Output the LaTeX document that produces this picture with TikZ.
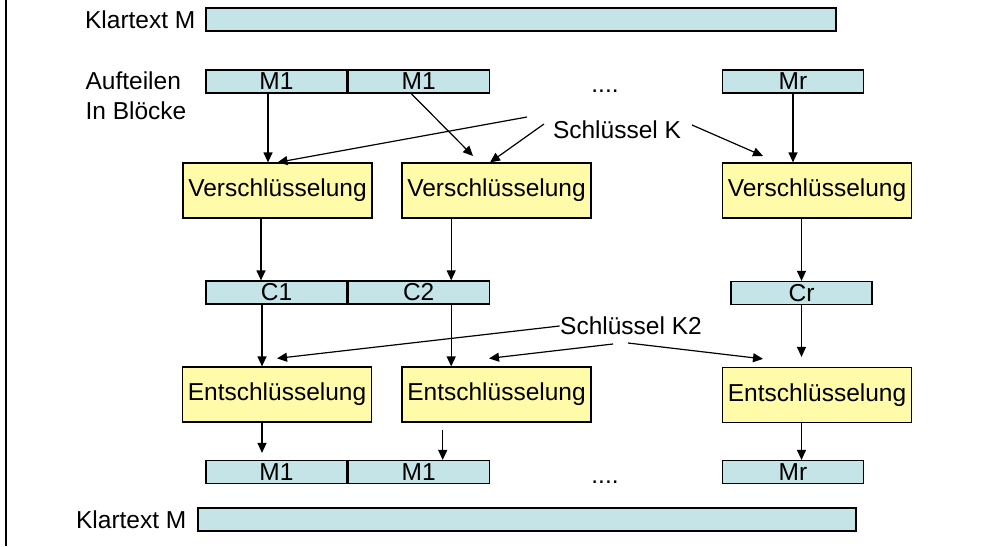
\documentclass[tikz,border=0pt]{standalone}
\usepackage{fontspec}
\setmainfont{Liberation Sans}
\usetikzlibrary{positioning,arrows.meta}
\definecolor{segblue}{RGB}{197,228,231}
\definecolor{cryptyellow}{RGB}{255,251,168}

\begin{document}
\begin{tikzpicture}[x=1pt, y=-1pt, line width=1.2pt,
    every node/.style={font=\fontsize{24.5}{30}\selectfont, inner sep=0pt},
    seg/.style={draw, fill=segblue, minimum width=141pt, minimum height=23pt},
    crypt/.style={draw, fill=cryptyellow, minimum width=189pt, minimum height=55pt},
    arr/.style={-{Triangle[length=10pt,width=9pt]}}]
        \useasboundingbox (0,0) rectangle (987,546);
        \draw[line width=1.6pt] (6,0) -- (6,546);
        % Plaintext and its blocks
        \node[draw, fill=segblue, minimum width=630pt, minimum height=23pt] (plain) at (521,19.5) {};
        \node[anchor=east] (plainlbl) at (196,19.5) {Klartext M};
        \node[anchor=west, align=left] (splitlbl) at (85,96) {Aufteilen\\In Blöcke};
        \node[seg] (m1) at (276.5,81.5) {M1};
        \node[seg, right=0pt of m1] (m2) {M1};
        \node[anchor=base] (mdots) at (605,92) {....};
        \node[seg] (mr) at (793,81.5) {Mr};
        % Encryption
        \node[crypt] (enc1) at (277.5,190.5) {Verschlüsselung};
        \node[crypt] (enc2) at (496.5,190.5) {Verschlüsselung};
        \node[crypt] (enc3) at (817,190.5) {Verschlüsselung};
        \node (keyK) at (617,130) {Schlüssel K};
        \coordinate (kA) at (527,117);
        \coordinate (kB) at (544,124);
        \coordinate (kC) at (692,125);
        \coordinate (kC2) at (763,156);
        \coordinate (m2end) at (473,156);
        % Ciphertext blocks
        \node[seg] (c1) at (276.5,292.5) {C1};
        \node[seg, right=0pt of c1] (c2) {C2};
        \node[seg] (cr) at (801.5,293) {Cr};
        % Decryption
        \node[crypt] (dec1) at (277,394.5) {Entschlüsselung};
        \node[crypt] (dec2) at (496.5,394.5) {Entschlüsselung};
        \node[crypt] (dec3) at (817,395) {Entschlüsselung};
        \node (keyK2) at (631,326) {Schlüssel K2};
        \coordinate (kD) at (613,344);
        \coordinate (kE) at (628,343);
        % Decrypted blocks and plaintext
        \node[seg] (p1) at (276.5,472) {M1};
        \node[seg, right=0pt of p1] (p2) {M1};
        \node[anchor=base] (pdots) at (605,483) {....};
        \node[seg] (pr) at (793,472) {Mr};
        \node[draw, fill=segblue, minimum width=658pt, minimum height=23pt] (result) at (527,519.5) {};
        \node[anchor=east] (resultlbl) at (187,519.5) {Klartext M};
        % Edges, encryption
        \draw[arr] ([xshift=-8.5pt]m1.south) -- ([xshift=-8.5pt]m1.south |- enc1.north);
        \draw[arr] ([xshift=-7.5pt]m2.south) -- (m2end);
        \draw[arr] (mr.south) -- (mr.south |- enc3.north);
        \draw[arr] (kA) -- (enc1.north);
        \draw[arr] (kB) -- ([xshift=-6.5pt]enc2.north);
        \draw[arr] (kC) -- (kC2);
        \draw[arr] ([xshift=-16.5pt]enc1.south) -- ([xshift=-16.5pt]enc1.south |- c1.north);
        \draw[arr] ([xshift=32.5pt]c2.north |- enc2.south) -- ([xshift=32.5pt]c2.north);
        \draw[arr] (cr.north |- enc3.south) -- (cr.north);
        % Edges, decryption
        \draw[arr] ([xshift=-14.5pt]c1.south) -- ([xshift=-14.5pt]c1.south |- dec1.north);
        \draw[arr] ([xshift=32.5pt]c2.south) -- ([xshift=32.5pt]c2.south |- dec2.north);
        \draw[arr] (cr.south) -- ([yshift=10pt]cr.south |- dec3.north);
        \draw[arr] (keyK2.west) -- ([yshift=8pt]dec1.north);
        \draw[arr] (kD) -- ([xshift=-7.5pt,yshift=8pt]dec2.north);
        \draw[arr] (kE) -- ([xshift=-54pt,yshift=8pt]dec3.north);
        \draw[arr] ([xshift=-15pt]dec1.south) -- ([xshift=-14.5pt,yshift=7pt]p1.north);
        \draw[arr] ([xshift=24pt,yshift=-7pt]p2.north |- dec2.south) -- ([xshift=24pt]p2.north);
        \draw[arr] ([xshift=8.5pt]pr.north |- dec3.south) -- ([xshift=8.5pt]pr.north);
\end{tikzpicture}
\end{document}
